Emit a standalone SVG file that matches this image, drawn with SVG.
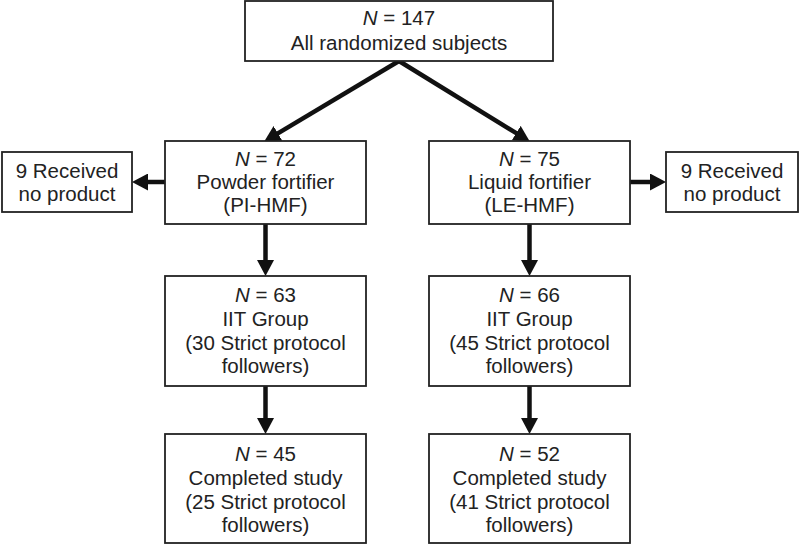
<svg xmlns="http://www.w3.org/2000/svg" width="800" height="545" viewBox="0 0 800 545">
<defs>
<style>
.box{fill:#fff;stroke:#222;stroke-width:1.8}
.t{font-family:"Liberation Sans",Arial,Helvetica,sans-serif;font-size:20.5px;fill:#222;text-anchor:middle}
.i{font-style:italic}
.conn{stroke:#111;stroke-width:4.5;fill:none}
</style>
<marker id="ah" viewBox="0 0 16 17" markerWidth="16" markerHeight="17" refX="4" refY="8.5" orient="auto" markerUnits="userSpaceOnUse">
<path d="M0,0 L16,8.5 L0,17 z" fill="#111"/>
</marker>
</defs>
<rect width="800" height="545" fill="#fff"/>
<g id="connectors">
<path class="conn" d="M399,61 L274.5,135.4" marker-end="url(#ah)"/>
<path class="conn" d="M399,61 L519.6,135.2" marker-end="url(#ah)"/>
<path class="conn" d="M165,182 L144,182" marker-end="url(#ah)"/>
<path class="conn" d="M630,182 L654,182" marker-end="url(#ah)"/>
<path class="conn" d="M265.5,224 L265.5,264" marker-end="url(#ah)"/>
<path class="conn" d="M529.5,224 L529.5,264" marker-end="url(#ah)"/>
<path class="conn" d="M265.5,386 L265.5,422" marker-end="url(#ah)"/>
<path class="conn" d="M529.5,386 L529.5,422" marker-end="url(#ah)"/>
</g>
<g id="all">
<rect class="box" x="245" y="1" width="308" height="60"/>
<text class="t" x="399" y="25"><tspan class="i">N</tspan> = 147</text>
<text class="t" x="399" y="50">All randomized subjects</text>
</g>
<g id="powder">
<rect class="box" x="165" y="141" width="201" height="83"/>
<text class="t" x="265.5" y="166"><tspan class="i">N</tspan> = 72</text>
<text class="t" x="265.5" y="189">Powder fortifier</text>
<text class="t" x="265.5" y="212">(PI-HMF)</text>
</g>
<g id="liquid">
<rect class="box" x="429" y="141" width="201" height="83"/>
<text class="t" x="529.5" y="166"><tspan class="i">N</tspan> = 75</text>
<text class="t" x="529.5" y="189">Liquid fortifier</text>
<text class="t" x="529.5" y="212">(LE-HMF)</text>
</g>
<g id="noproduct-left">
<rect class="box" x="2" y="152" width="130" height="60"/>
<text class="t" x="67" y="178">9 Received</text>
<text class="t" x="67" y="201">no product</text>
</g>
<g id="noproduct-right">
<rect class="box" x="666" y="152" width="132" height="60"/>
<text class="t" x="732" y="178">9 Received</text>
<text class="t" x="732" y="201">no product</text>
</g>
<g id="iit-left">
<rect class="box" x="165" y="276" width="201" height="110"/>
<text class="t" x="265.5" y="302"><tspan class="i">N</tspan> = 63</text>
<text class="t" x="265.5" y="326">IIT Group</text>
<text class="t" x="265.5" y="350">(30 Strict protocol</text>
<text class="t" x="265.5" y="373">followers)</text>
</g>
<g id="iit-right">
<rect class="box" x="429" y="276" width="201" height="110"/>
<text class="t" x="529.5" y="302"><tspan class="i">N</tspan> = 66</text>
<text class="t" x="529.5" y="326">IIT Group</text>
<text class="t" x="529.5" y="350">(45 Strict protocol</text>
<text class="t" x="529.5" y="373">followers)</text>
</g>
<g id="completed-left">
<rect class="box" x="165" y="434" width="201" height="109"/>
<text class="t" x="265.5" y="461"><tspan class="i">N</tspan> = 45</text>
<text class="t" x="265.5" y="485">Completed study</text>
<text class="t" x="265.5" y="509">(25 Strict protocol</text>
<text class="t" x="265.5" y="532">followers)</text>
</g>
<g id="completed-right">
<rect class="box" x="429" y="434" width="201" height="109"/>
<text class="t" x="529.5" y="461"><tspan class="i">N</tspan> = 52</text>
<text class="t" x="529.5" y="485">Completed study</text>
<text class="t" x="529.5" y="509">(41 Strict protocol</text>
<text class="t" x="529.5" y="532">followers)</text>
</g>
</svg>
